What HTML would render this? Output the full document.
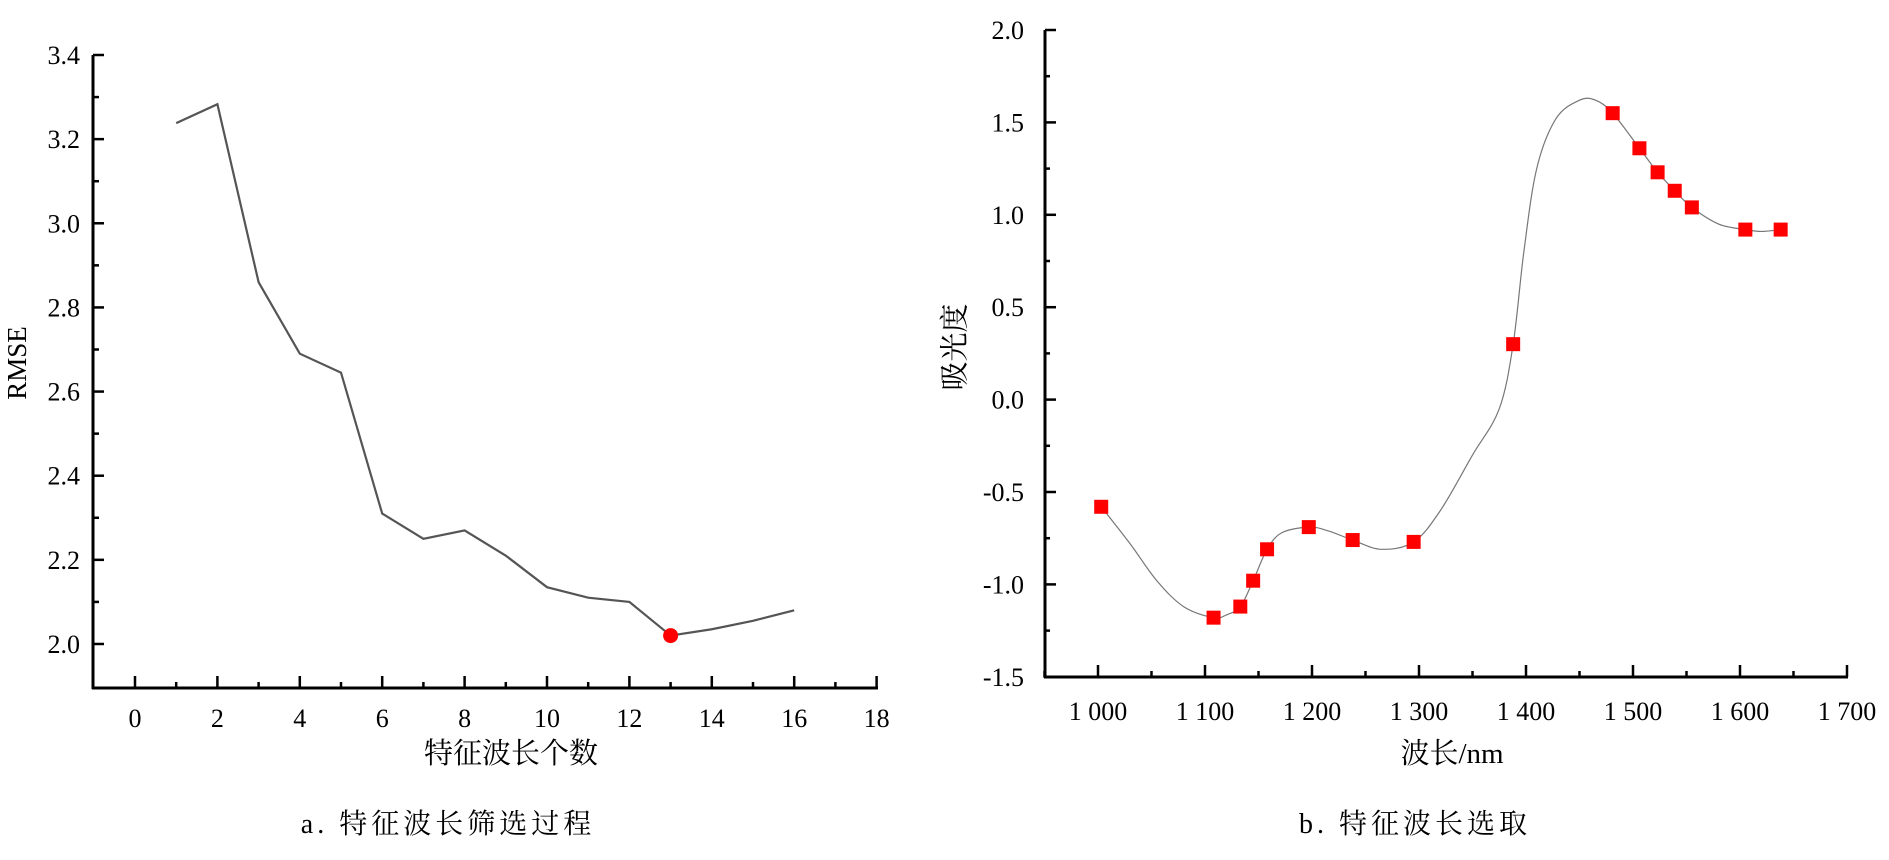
<!DOCTYPE html>
<html><head><meta charset="utf-8"><style>
html,body{margin:0;padding:0;background:#fff;}
svg{display:block;}
svg text{font-family:"Liberation Serif","Noto Serif CJK SC",serif !important;}
</style></head><body>
<svg id="s" width="1889" height="860" viewBox="0 0 1889 860" xmlns="http://www.w3.org/2000/svg" style="font-family:'Liberation Serif',serif">
<g id="g" style="font-family:'Liberation Serif',serif"></g>
<text x="20" y="363" font-size="27" text-anchor="middle" transform="rotate(-90 20 363)" dominant-baseline="middle">RMSE</text>
<text x="511" y="763" font-size="29" text-anchor="middle">特征波长个数</text>
<text x="448" y="833" font-size="28" text-anchor="middle" letter-spacing="4">a. 特征波长筛选过程</text>
<text x="958" y="347" font-size="29" text-anchor="middle" transform="rotate(-90 958 347)" dominant-baseline="middle">吸光度</text>
<text x="1452" y="763" font-size="29" text-anchor="middle">波长/nm</text>
<text x="1415" y="833" font-size="28" text-anchor="middle" letter-spacing="4">b. 特征波长选取</text>
</svg>
<script>
var NS='http://www.w3.org/2000/svg',g=document.getElementById('g');
function E(t,a,txt){var e=document.createElementNS(NS,t);for(var k in a)e.setAttribute(k,a[k]);if(txt!==undefined)e.textContent=txt;g.appendChild(e);return e;}
function L(x1,y1,x2,y2,w,c){E('line',{x1:x1,y1:y1,x2:x2,y2:y2,stroke:c||'#000','stroke-width':w});}
function T(x,y,s,a){E('text',{x:x,y:y,'font-size':26,'text-anchor':a,style:"font-family:'Liberation Serif',serif"},String(s));}
var lx=function(v){return 135+v*41.2;}, ly=function(v){return 55+(3.4-v)*420.7;};
L(93,55,93,689,3);L(92,688,878,688,3);
for(var k=0;k<=18;k++){var x=lx(k);L(x,688,x,k%2?682:676,2.5);if(k%2==0)T(x,727,k,'middle');}
for(var k=0;k<=14;k++){var v=3.4-k*0.1,y=ly(v);L(93,y,k%2?99:104,y,2.5);if(k%2==0)T(80,y+9,v.toFixed(1),'end');}
var d=[[1,3.238],[2,3.283],[3,2.86],[4,2.69],[5,2.645],[6,2.31],[7,2.25],[8,2.27],[9,2.21],[10,2.135],[11,2.11],[12,2.1],[13,2.02],[14,2.035],[15,2.055],[16,2.08]];
E('polyline',{fill:'none',stroke:'#555','stroke-width':2.2,points:d.map(function(p){return lx(p[0])+','+ly(p[1]);}).join(' ')});
E('circle',{cx:lx(13),cy:ly(2.02),r:7.5,fill:'#f00'});
var rx=function(n){return 1098+(n-1000)*1.07;}, ry=function(v){return 30+(2-v)*184.8;};
L(1045,30,1045,678,3);L(1044,677,1848,677,3);
for(var n=950;n<=1700;n+=50){var x=rx(n);L(x,677,x,n%100?671:665,2.5);if(n%100==0&&n>=1000)T(x,720,String(n).charAt(0)+' '+String(n).slice(1),'middle');}
for(var k=0;k<=14;k++){var v=2-k*0.25,y=ry(v);L(1045,y,k%2?1050:1056,y,2.5);if(k%2==0)T(1024,y+9,(v<0?'-':'')+Math.abs(v).toFixed(1),'end');}
var c=[[1003,-0.58],[1030,-0.78],[1055,-0.98],[1080,-1.12],[1108,-1.18],[1120,-1.165],[1133,-1.12],[1145,-0.98],[1158,-0.81],[1172,-0.72],[1197,-0.69],[1215,-0.71],[1238,-0.76],[1265,-0.81],[1295,-0.77],[1320,-0.6],[1350,-0.3],[1375,-0.05],[1388,0.30],[1398,0.8],[1410,1.25],[1428,1.52],[1450,1.62],[1465,1.62],[1481,1.55],[1506,1.36],[1523,1.23],[1539,1.13],[1555,1.04],[1580,0.95],[1605,0.92],[1620,0.91],[1638,0.92]];
var P=c.map(function(p){return [rx(p[0]),ry(p[1])];});
var s='M'+P[0][0]+','+P[0][1];
for(var i=0;i<P.length-1;i++){var p0=P[Math.max(i-1,0)],p1=P[i],p2=P[i+1],p3=P[Math.min(i+2,P.length-1)];
s+=' C'+(p1[0]+(p2[0]-p0[0])/6)+','+(p1[1]+(p2[1]-p0[1])/6)+' '+(p2[0]-(p3[0]-p1[0])/6)+','+(p2[1]-(p3[1]-p1[1])/6)+' '+p2[0]+','+p2[1];}
E('path',{d:s,fill:'none',stroke:'#777','stroke-width':1.2});
[[1003,-0.58],[1108,-1.18],[1133,-1.12],[1145,-0.98],[1158,-0.81],[1197,-0.69],[1238,-0.76],[1295,-0.77],[1388,0.30],[1481,1.55],[1506,1.36],[1523,1.23],[1539,1.13],[1555,1.04],[1605,0.92],[1638,0.92]].forEach(function(p){
E('rect',{x:rx(p[0])-7,y:ry(p[1])-7,width:14,height:14,fill:'#f00'});});
</script>
</body></html>
